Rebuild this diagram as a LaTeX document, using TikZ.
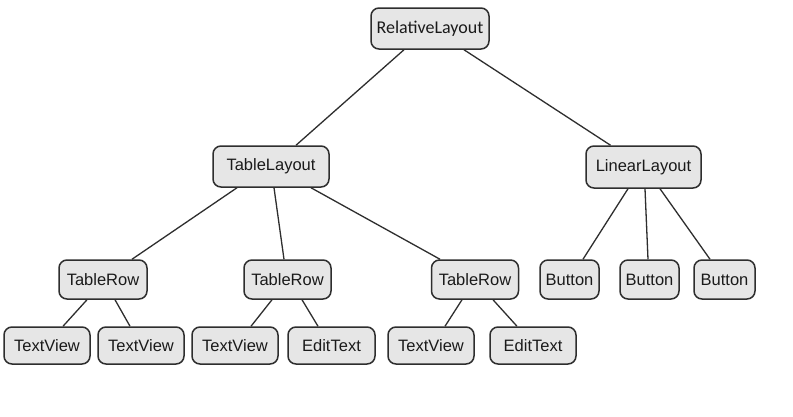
\documentclass[tikz,border=0pt]{standalone}
\usepackage{fontspec}
\setmainfont{Liberation Sans}
\newfontfamily\calfont{Carlito}
\definecolor{boxfill}{HTML}{E6E6E6}
\definecolor{boxline}{HTML}{2E2E2E}
\definecolor{txt}{HTML}{1A1A1A}
\begin{document}
\begin{tikzpicture}[x=1pt,y=-1pt,
  box/.style={draw=boxline, fill=boxfill, line width=1.5pt, rounded corners=8pt,
    inner sep=0pt, text=txt, font=\fontsize{16.5}{19}\selectfont},
  link/.style={draw=boxline, line width=1.3pt}]
\useasboundingbox[fill=white] (0,0) rectangle (793,416);
% top
\node[box, minimum width=118pt, minimum height=41pt, font=\calfont\fontsize{18}{21}\selectfont] (rl) at (430,28.5) {RelativeLayout};
% second level
\node[box, minimum width=116pt, minimum height=41pt] (tl) at (271,166.5) {TableLayout};
\node[box, minimum width=115pt, minimum height=42pt] (ll) at (643.5,167) {LinearLayout};
% third level
\node[box, minimum width=88pt, minimum height=39pt] (tr1) at (103,279.5) {TableRow};
\node[box, minimum width=87pt, minimum height=39pt] (tr2) at (287.5,279.5) {TableRow};
\node[box, minimum width=87pt, minimum height=39pt] (tr3) at (475,279.5) {TableRow};
\node[box, minimum width=59pt, minimum height=39pt] (b1) at (569.5,279.5) {Button};
\node[box, minimum width=59pt, minimum height=39pt] (b2) at (649.5,279.5) {Button};
\node[box, minimum width=61pt, minimum height=39pt] (b3) at (724.5,279.5) {Button};
% bottom level
\node[box, minimum width=86pt, minimum height=37pt] (tv1) at (47,345.5) {TextView};
\node[box, minimum width=86pt, minimum height=37pt] (tv2) at (141,345.5) {TextView};
\node[box, minimum width=86pt, minimum height=37pt] (tv3) at (235,345.5) {TextView};
\node[box, minimum width=87pt, minimum height=37pt] (et1) at (331.5,345.5) {EditText};
\node[box, minimum width=86pt, minimum height=37pt] (tv4) at (431,345.5) {TextView};
\node[box, minimum width=86pt, minimum height=37pt] (et2) at (533,345.5) {EditText};
% connectors
\path[link] ([xshift=-26pt]rl.south) -- ([xshift=25pt]tl.north);
\path[link] ([xshift=34pt]rl.south) -- ([xshift=-33pt]ll.north);
\path[link] ([xshift=-34pt]tl.south) -- ([xshift=29pt]tr1.north);
\path[link] ([xshift=3pt]tl.south) -- ([xshift=-3.5pt]tr2.north);
\path[link] ([xshift=40pt]tl.south) -- ([xshift=-35pt]tr3.north);
\path[link] ([xshift=-15.5pt]ll.south) -- ([xshift=13.5pt]b1.north);
\path[link] ([xshift=1.5pt]ll.south) -- ([xshift=-1.5pt]b2.north);
\path[link] ([xshift=16.5pt]ll.south) -- ([xshift=-14.5pt]b3.north);
\path[link] ([xshift=-16pt]tr1.south) -- ([xshift=16pt]tv1.north);
\path[link] ([xshift=12pt]tr1.south) -- ([xshift=-11pt]tv2.north);
\path[link] ([xshift=-15.5pt]tr2.south) -- ([xshift=16pt]tv3.north);
\path[link] ([xshift=14.5pt]tr2.south) -- ([xshift=-13.5pt]et1.north);
\path[link] ([xshift=-13pt]tr3.south) -- ([xshift=14pt]tv4.north);
\path[link] ([xshift=18pt]tr3.south) -- ([xshift=-16pt]et2.north);
\end{tikzpicture}
\end{document}
